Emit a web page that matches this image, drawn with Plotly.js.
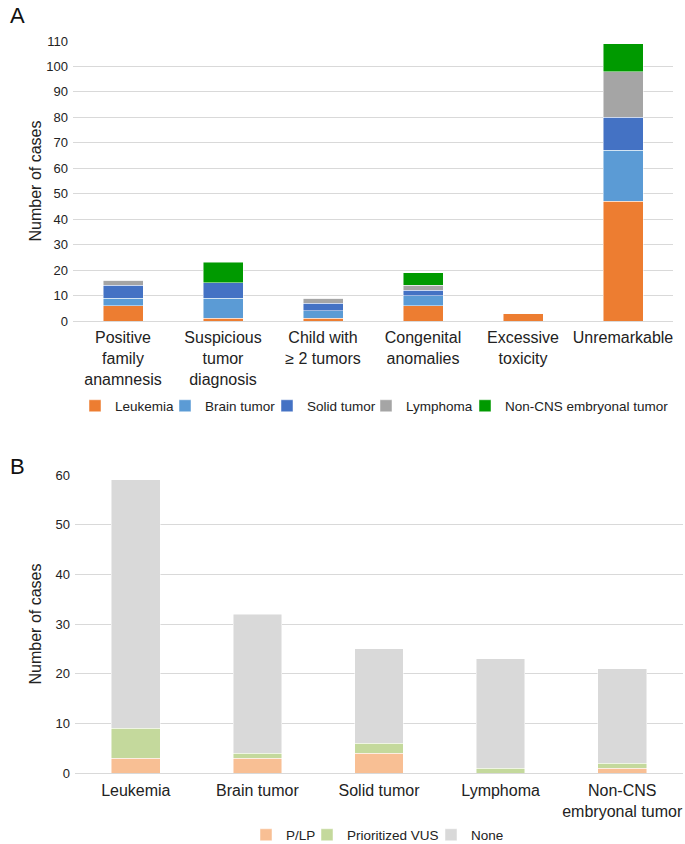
<!DOCTYPE html>
<html>
<head>
<meta charset="utf-8">
<script src="https://cdn.plot.ly/plotly-3.0.1.min.js"></script>
<style>html,body{margin:0;padding:0;background:#fff;}#chart{width:685px;height:844px;}</style>
</head>
<body>
<div id="chart"></div>
<script>
// Panel A data
const catsA = ["Positive<br>family<br>anamnesis", "Suspicious<br>tumor<br>diagnosis", "Child with<br>≥ 2 tumors", "Congenital<br>anomalies", "Excessive<br>toxicity", "Unremarkable"];
const leukemiaA = [6, 1, 1, 6, 3, 47];
const brainA = [3, 8, 3, 4, 0, 20];
const solidA = [5, 6, 3, 2, 0, 13];
const lymphomaA = [2, 0, 2, 2, 0, 18];
const nonCnsA = [0, 8, 0, 5, 0, 11];
const seriesNamesA = ["Leukemia", "Brain tumor", "Solid tumor", "Lymphoma", "Non-CNS embryonal tumor"];
const colorsA = ["#ED7D31", "#5B9BD5", "#4472C4", "#A5A5A5", "#009A00"];

// Panel B data
const catsB = ["Leukemia", "Brain tumor", "Solid tumor", "Lymphoma", "Non-CNS<br>embryonal tumor"];
const plpB = [3, 3, 4, 0, 1];
const vusB = [6, 1, 2, 1, 1];
const noneB = [50, 28, 19, 22, 19];
const seriesNamesB = ["P/LP", "Prioritized VUS", "None"];
const colorsB = ["#F8BF94", "#C4D99C", "#D9D9D9"];

const font = "Arial, 'Liberation Sans', sans-serif";
const valsA = [leukemiaA, brainA, solidA, lymphomaA, nonCnsA];
const valsB = [plpB, vusB, noneB];
// legend entry widths (px) to pack legend items tightly like the original
const legW_A = [45, 57, 54, 54, 166];
const legW_B = [16, 79, 34];

const traces = [];
valsA.forEach((v, i) => traces.push({
  type: "bar", x: catsA, y: v, name: seriesNamesA[i], xaxis: "x", yaxis: "y",
  marker: {color: colorsA[i], line: {color: "rgba(255,255,255,0.6)", width: 0.8}},
  legend: "legend", legendwidth: legW_A[i], hoverinfo: "y+name"
}));
valsB.forEach((v, i) => traces.push({
  type: "bar", x: catsB, y: v, name: seriesNamesB[i], xaxis: "x2", yaxis: "y2",
  marker: {color: colorsB[i], line: {color: "rgba(255,255,255,0.6)", width: 0.8}},
  legend: "legend2", legendwidth: legW_B[i], hoverinfo: "y+name"
}));

const H = 732; // plot area height in px (844 - 41 - 71)
const layout = {
  width: 685, height: 844,
  margin: {l: 73, r: 2, t: 41, b: 71, autoexpand: false},
  barmode: "stack", bargap: 0.6,
  paper_bgcolor: "#fff", plot_bgcolor: "#fff",
  font: {family: font, color: "#222", size: 13},
  showlegend: true,
  xaxis: {domain: [0, 0.9836], anchor: "y", tickfont: {size: 16, color: "#222"}, showline: false, ticks: "", ticklabelstandoff: 5},
  yaxis: {domain: [(773 - 321) / H, 1], anchor: "x", range: [0, 110], dtick: 10, showgrid: true, gridcolor: "#D9D9D9", gridwidth: 1,
    zeroline: true, zerolinecolor: "#D9D9D9", zerolinewidth: 1,
    tickfont: {size: 13, color: "#222"}, ticks: "", ticklabelstandoff: 4,
    title: {text: "Number of cases", font: {size: 16, color: "#222"}, standoff: 0}},
  xaxis2: {domain: [0.0033, 1], anchor: "y2", tickfont: {size: 16, color: "#222"}, showline: false, ticks: "", ticklabelstandoff: 6},
  yaxis2: {domain: [0, (773 - 475) / H], anchor: "x2", range: [0, 60], dtick: 10, showgrid: true, gridcolor: "#D9D9D9", gridwidth: 1,
    zeroline: true, zerolinecolor: "#D9D9D9", zerolinewidth: 1,
    tickfont: {size: 13, color: "#222"}, ticks: "", ticklabelstandoff: 4,
    title: {text: "Number of cases", font: {size: 16, color: "#222"}, standoff: 9}},
  legend: {orientation: "h", x: 2 / 610, xanchor: "left", y: (773 - 406) / H, yanchor: "middle",
    font: {size: 13.5, color: "#222"}, traceorder: "normal", itemwidth: 30, bgcolor: "rgba(0,0,0,0)"},
  legend2: {orientation: "h", x: (246 - 73) / 610, xanchor: "left", y: (773 - 835) / H, yanchor: "middle",
    font: {size: 13.5, color: "#222"}, traceorder: "normal", itemwidth: 30, bgcolor: "rgba(0,0,0,0)"},
  annotations: [
    {text: "A", xref: "paper", yref: "paper", x: (17 - 73) / 610, y: (773 - 15) / H, showarrow: false, font: {size: 22, color: "#111"}, xanchor: "center", yanchor: "middle"},
    {text: "B", xref: "paper", yref: "paper", x: (17 - 73) / 610, y: (773 - 466) / H, showarrow: false, font: {size: 22, color: "#111"}, xanchor: "center", yanchor: "middle"}
  ]
};

Plotly.newPlot("chart", traces, layout, {displayModeBar: false, staticPlot: true});
</script>
</body>
</html>
